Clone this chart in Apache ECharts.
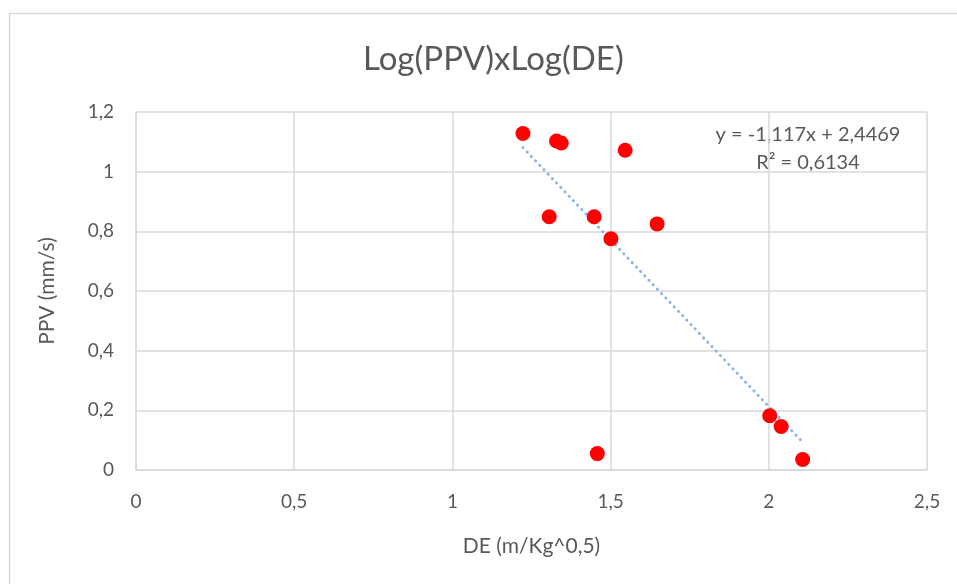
<!DOCTYPE html>
<html>
<head>
<meta charset="utf-8">
<script src="https://cdn.jsdelivr.net/npm/echarts@6/dist/echarts.min.js"></script>
<style>html,body{margin:0;padding:0;background:#fff}#c{width:957px;height:584px}</style>
</head>
<body>
<div id="c"></div>
<script>
var deValues = [1.223, 1.329, 1.344, 1.546, 1.306, 1.448, 1.501, 1.647, 1.458, 2.003, 2.039, 2.107];
var ppvValues = [1.128, 1.103, 1.096, 1.072, 0.849, 0.849, 0.775, 0.825, 0.055, 0.182, 0.146, 0.035];
var trendSlope = -1.117;
var trendIntercept = 2.4469;
var equationLines = ['y = -1,117x + 2,4469', 'R² = 0,6134'];
var titleText = 'Log(PPV)xLog(DE)';
var xAxisName = 'DE (m/Kg^0,5)';
var yAxisName = 'PPV (mm/s)';

var points = deValues.map(function (x, i) { return [x, ppvValues[i]]; });
var xMin = Math.min.apply(null, deValues), xMax = Math.max.apply(null, deValues);
var trend = [[xMin, trendSlope * xMin + trendIntercept], [xMax, trendSlope * xMax + trendIntercept]];
function fmt(v) { return String(v).replace('.', ','); }

var chart = echarts.init(document.getElementById('c'), null, { renderer: 'canvas' });
var font = 'Lato, Open Sans, sans-serif';
chart.setOption({
  animation: false,
  backgroundColor: '#fff',
  graphic: [{
    type: 'rect', shape: { x: 9.5, y: 13.5, width: 1000, height: 1000 },
    style: { fill: 'none', stroke: '#d9d9d9', lineWidth: 1.5 }, silent: true
  }, {
    type: 'text', x: 808, y: 121,
    style: { text: equationLines.join('\n'), fill: '#595959', font: '20px ' + font, align: 'center', verticalAlign: 'top', lineHeight: 28 }
  }],
  title: {
    text: titleText, left: 358, top: 38,
    textStyle: { fontFamily: font, fontWeight: 'normal', fontSize: 33, color: '#595959' }
  },
  grid: { left: 136, right: 30, top: 112, bottom: 114, containLabel: false },
  xAxis: {
    type: 'value', min: 0, max: 2.5, interval: 0.5,
    name: xAxisName, nameLocation: 'middle', nameGap: 66,
    nameTextStyle: { fontFamily: font, fontSize: 21, color: '#595959' },
    axisLine: { show: true, lineStyle: { color: '#d9d9d9', width: 1.5 } },
    axisTick: { show: false },
    axisLabel: { fontFamily: font, fontSize: 19, color: '#595959', margin: 22, formatter: fmt },
    splitLine: { show: true, lineStyle: { color: '#d9d9d9', width: 1.5 } }
  },
  yAxis: {
    type: 'value', min: 0, max: 1.2, interval: 0.2,
    name: yAxisName, nameLocation: 'middle', nameGap: 78, nameRotate: 90,
    nameTextStyle: { fontFamily: font, fontSize: 21, color: '#595959' },
    axisLine: { show: true, lineStyle: { color: '#d9d9d9', width: 1.5 } },
    axisTick: { show: false },
    axisLabel: { fontFamily: font, fontSize: 19, color: '#595959', margin: 22,
      formatter: function (v) { return fmt(Math.round(v * 10) / 10); } },
    splitLine: { show: true, lineStyle: { color: '#d9d9d9', width: 1.5 } }
  },
  series: [{
    type: 'line', data: trend, symbol: 'none', silent: true, z: 1,
    lineStyle: { color: '#8eb4e3', width: 3, type: [0.1, 6], cap: 'round' }
  }, {
    type: 'scatter', data: points, symbolSize: 15, z: 2,
    itemStyle: { color: '#ff0000', opacity: 1 }
  }]
});
</script>
</body>
</html>
